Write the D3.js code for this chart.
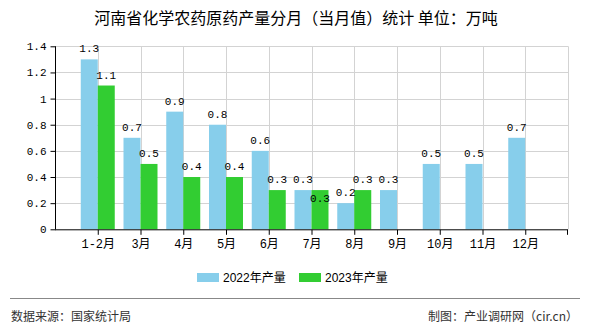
<!DOCTYPE html>
<html><head><meta charset="utf-8">
<script src="https://cdn.jsdelivr.net/npm/d3@7/dist/d3.min.js"></script>
<style>body{margin:0;background:#fff}svg{display:block}</style>
</head><body><svg id="c" width="590" height="330"></svg>
<script>
const categories = ["1-2月","3月","4月","5月","6月","7月","8月","9月","10月","11月","12月"];
const values2022 = [1.3,0.7,0.9,0.8,0.6,0.3,0.2,0.3,0.5,0.5,0.7];
const values2023 = [1.1,0.5,0.4,0.4,0.3,0.3,0.3,null,null,null,null];
const yTicks = [0,0.2,0.4,0.6,0.8,1,1.2,1.4];
const seriesNames = ["2022年产量","2023年产量"];
const colors = ["#87CEEB","#32CD32"];

const svg = d3.select("#c");
const L = 55, R = 568, T = 46.3, B = 229.3;
const monoFont = "'Liberation Mono','DejaVu Sans Mono','Noto Sans CJK SC',monospace";
const sansFont = "'Noto Sans CJK SC','Liberation Sans',sans-serif";

const x = d3.scalePoint().domain(categories).range([L, R]).padding(1);
const y = d3.scaleLinear().domain([0, 1.4]).range([B, T]);
const bw = 17;

// title
svg.append("text").attr("x", 296).attr("y", 24).attr("text-anchor","middle")
  .attr("font-family", sansFont).attr("font-size", 16).attr("fill","#000")
  .text("河南省化学农药原药产量分月（当月值）统计 单位：万吨");

// grid
const g = svg.append("g");
g.selectAll("line.h").data(yTicks.filter(d=>d>0)).join("line")
  .attr("x1", L).attr("x2", R).attr("y1", d=>Math.round(y(d))+0.5).attr("y2", d=>Math.round(y(d))+0.5)
  .attr("stroke","#d3d3d3");
const vx = categories.map(c=>x(c)).concat([R]);
g.selectAll("line.v").data(vx).join("line")
  .attr("x1", d=>Math.round(d)+0.5).attr("x2", d=>Math.round(d)+0.5)
  .attr("y1", T).attr("y2", B).attr("stroke","#d3d3d3");

// bars
const series = [values2022, values2023];
series.forEach((vals, si) => {
  svg.append("g").selectAll("rect").data(categories.map((c,i)=>({c, v: vals[i]})).filter(d=>d.v!=null))
    .join("rect")
    .attr("x", d => si===0 ? x(d.c)-bw : x(d.c))
    .attr("width", bw)
    .attr("y", d => y(d.v))
    .attr("height", d => y(0)-y(d.v))
    .attr("fill", colors[si]);
});

// axes
const ya = svg.append("g").attr("transform", `translate(${L+0.5},0)`)
  .call(d3.axisLeft(y).tickValues(yTicks).tickSize(5).tickPadding(4).tickFormat(d3.format("~g")));
ya.select(".domain").attr("stroke","#000").attr("d", `M0,${T}V${B}`);
ya.selectAll(".tick line").attr("stroke","#000");
ya.selectAll(".tick text").attr("font-family", monoFont).attr("font-size", 11).attr("fill","#000");

const xa = svg.append("g").attr("transform", `translate(0,${B+0.5})`)
  .call(d3.axisBottom(x).tickSize(5).tickPadding(5));
xa.select(".domain").attr("stroke","#000").attr("d", `M${L},0H${R}`);
xa.selectAll(".tick line").attr("stroke","#000");
xa.selectAll(".tick text").attr("font-family", monoFont).attr("font-size", 12).attr("fill","#000");
xa.append("line").attr("x1", R-0.5).attr("x2", R-0.5).attr("y1",0).attr("y2",5).attr("stroke","#000");

// value labels
const labels = svg.append("g").attr("font-family", monoFont).attr("font-size", 11).attr("fill","#000").attr("text-anchor","middle");
categories.forEach((c, i) => {
  const a = values2022[i], b = values2023[i];
  if (a != null) labels.append("text").attr("x", x(c)-bw/2).attr("y", y(a)-7).text(d3.format(".1f")(a));
  if (b != null) {
    const collide = a != null && Math.abs(y(a)-y(b)) < 11;
    labels.append("text").attr("x", x(c)+bw/2).attr("y", collide ? y(b)+12 : y(b)-7).text(d3.format(".1f")(b));
  }
});

// legend
const lg = svg.append("g");
const lx = [197, 299];
seriesNames.forEach((n, i) => {
  lg.append("rect").attr("x", lx[i]).attr("y", 273).attr("width", 22).attr("height", 9).attr("fill", colors[i]);
  lg.append("text").attr("x", lx[i]+26).attr("y", 282).attr("font-family", "'Liberation Sans','Noto Sans CJK SC',sans-serif")
    .attr("font-size", 12).attr("fill","#000").text(n);
});

// footer
svg.append("line").attr("x1", 10).attr("x2", 580).attr("y1", 298.5).attr("y2", 298.5).attr("stroke","#888");
svg.append("text").attr("x", 11).attr("y", 321).attr("font-family", sansFont).attr("font-size", 12).attr("fill","#333").text("数据来源：国家统计局");
svg.append("text").attr("x", 578).attr("y", 321).attr("text-anchor","end").attr("font-family", sansFont).attr("font-size", 12).attr("fill","#333").text("制图：产业调研网（cir.cn）");
</script></body></html>
